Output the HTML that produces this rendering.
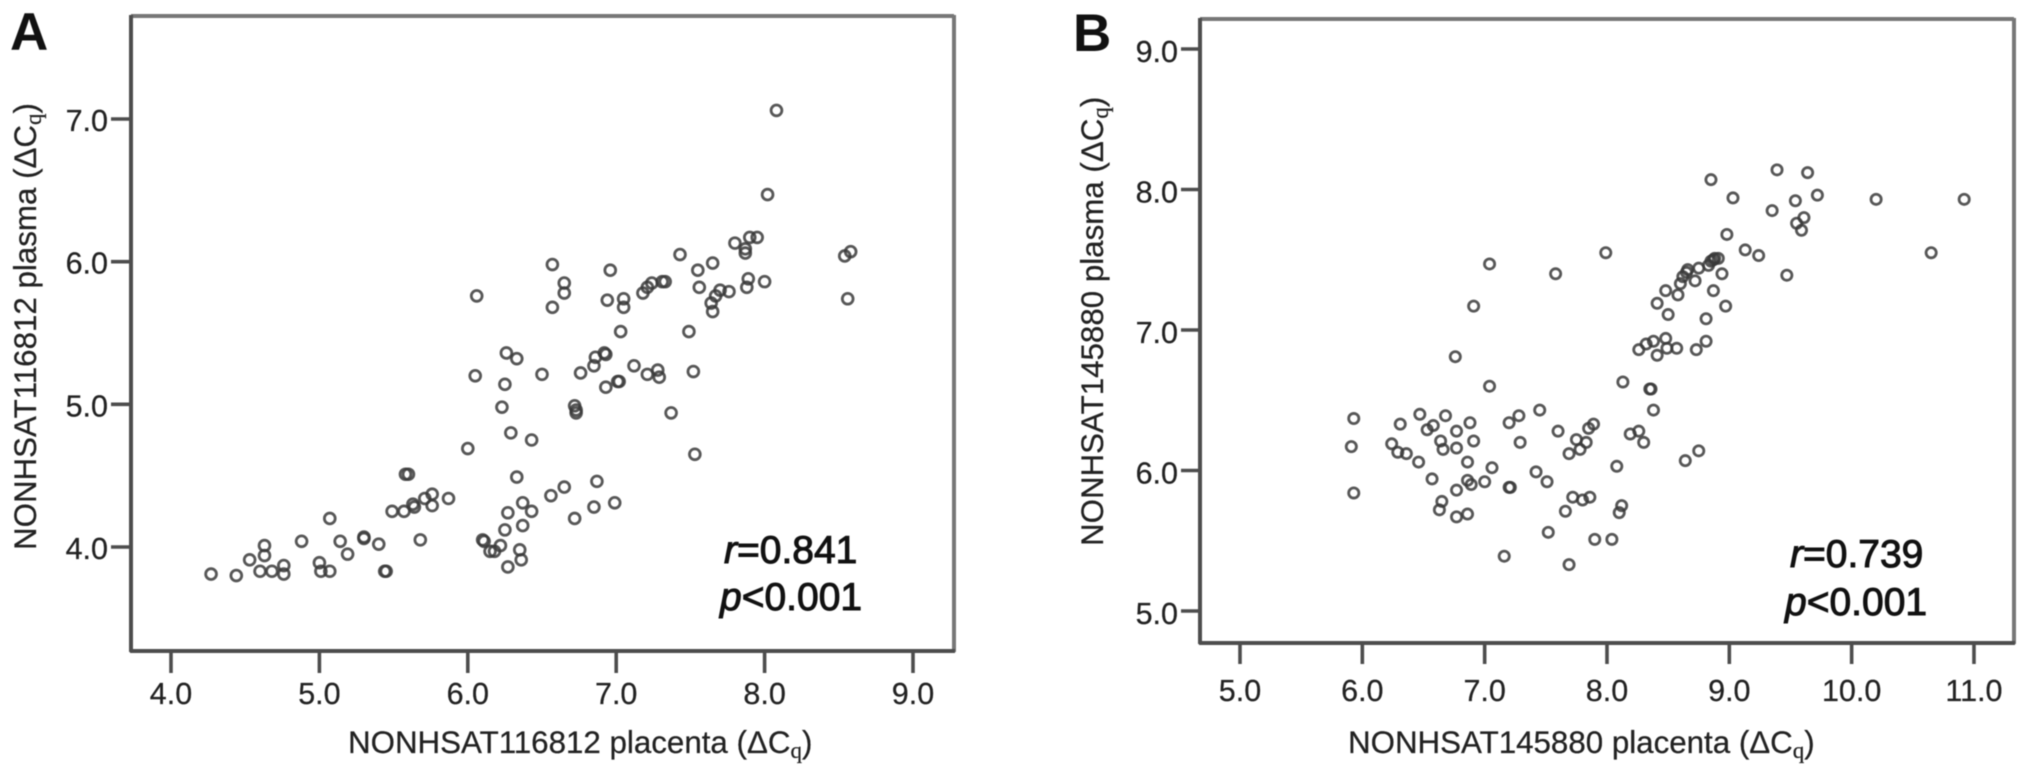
<!DOCTYPE html>
<html lang="en">
<head>
<meta charset="utf-8">
<title>NONHSAT placenta vs plasma scatter plots</title>
<style>
html,body{margin:0;padding:0;background:#fff;width:2031px;height:772px;overflow:hidden}
svg{display:block;filter:blur(0.6px)}
text{font-family:"Liberation Sans",Arial,sans-serif;fill:#222}
.tick-label{font-size:30.5px;stroke:#222;stroke-width:.25px}
.axis-title{font-size:31.3px;stroke:#222;stroke-width:.25px}
.stat{font-size:39px;fill:#111;stroke:#111;stroke-width:1px}
.panel-letter{font-size:53px;font-weight:700;fill:#111}
.sub{font-family:"Liberation Serif",serif;font-size:23px}
</style>
</head>
<body>
<svg id="figure" width="2031" height="772" viewBox="0 0 2031 772" xmlns="http://www.w3.org/2000/svg">
  <g id="panel-a">
    <text class="panel-letter" x="10" y="50">A</text>
    <line x1="131" y1="16" x2="954" y2="16" stroke="#777" stroke-width="4"/>
    <line x1="954" y1="15" x2="954" y2="652" stroke="#777" stroke-width="4"/>
    <line x1="131" y1="15" x2="131" y2="652" stroke="#4d4d4d" stroke-width="4"/>
    <line x1="130" y1="651" x2="955" y2="651" stroke="#4d4d4d" stroke-width="4"/>
    <g id="a-ticks"></g>
    <g id="a-points"></g>
    <text class="axis-title" x="348" y="753">NONHSAT116812 placenta (ΔC<tspan class="sub" dy="5">q</tspan><tspan dy="-5">)</tspan></text>
    <text class="axis-title" transform="translate(36 550) rotate(-90)">NONHSAT116812 plasma (ΔC<tspan class="sub" dy="5">q</tspan><tspan dy="-5">)</tspan></text>
    <text class="stat" x="724" y="563"><tspan font-style="italic">r</tspan>=0.841</text>
    <text class="stat" x="720" y="610"><tspan font-style="italic">p</tspan>&lt;0.001</text>
  </g>
  <g id="panel-b">
    <text class="panel-letter" x="1073" y="51">B</text>
    <line x1="1200" y1="19" x2="2014" y2="19" stroke="#777" stroke-width="4"/>
    <line x1="2014" y1="18" x2="2014" y2="644" stroke="#777" stroke-width="4"/>
    <line x1="1200" y1="18" x2="1200" y2="644" stroke="#4d4d4d" stroke-width="4"/>
    <line x1="1199" y1="643" x2="2015" y2="643" stroke="#4d4d4d" stroke-width="4"/>
    <g id="b-ticks"></g>
    <g id="b-points"></g>
    <text class="axis-title" x="1348" y="753">NONHSAT145880 placenta (ΔC<tspan class="sub" dy="5">q</tspan><tspan dy="-5">)</tspan></text>
    <text class="axis-title" transform="translate(1103 546) rotate(-90)">NONHSAT145880 plasma (ΔC<tspan class="sub" dy="5">q</tspan><tspan dy="-5">)</tspan></text>
    <text class="stat" x="1790" y="567"><tspan font-style="italic">r</tspan>=0.739</text>
    <text class="stat" x="1785" y="615"><tspan font-style="italic">p</tspan>&lt;0.001</text>
  </g>
</svg>
<script>
const aXTicks = [4, 5, 6, 7, 8, 9];
const aYTicks = [4, 5, 6, 7];
const bXTicks = [5, 6, 7, 8, 9, 10, 11];
const bYTicks = [5, 6, 7, 8, 9];

const aPlacenta = [4.27,4.44,4.53,4.63,4.63,4.60,4.68,4.76,4.76,4.88,5.07,5.14,5.19,5.00,5.01,5.07,5.30,5.30,5.40,5.45,5.44,5.49,5.57,5.58,5.60,5.63,5.64,5.71,5.76,5.76,5.87,5.68,6.00,6.11,6.10,6.22,6.15,6.18,6.35,6.36,6.27,6.25,6.37,6.27,6.43,6.37,6.33,6.56,6.65,6.72,6.85,6.87,6.99,7.37,7.53,6.29,6.43,6.23,6.72,6.73,6.73,6.05,6.25,6.26,6.33,6.50,6.76,6.85,6.86,6.92,6.93,6.93,7.02,7.01,7.12,7.21,7.28,7.29,7.52,7.49,7.03,6.06,6.65,6.65,6.57,6.57,6.96,6.94,7.05,7.05,7.18,7.21,7.24,7.31,7.33,7.43,7.55,7.65,7.56,7.65,7.64,7.67,7.70,7.76,7.88,7.89,8.00,7.80,7.87,7.87,7.90,7.95,8.02,8.08,8.54,8.58,8.56];
const aPlasma = [3.81,3.80,3.91,4.01,3.94,3.83,3.83,3.87,3.81,4.04,4.20,4.04,3.95,3.89,3.83,3.83,4.07,4.06,4.02,3.83,3.83,4.25,4.25,4.51,4.51,4.30,4.28,4.34,4.37,4.29,4.34,4.05,4.69,4.04,4.05,4.01,3.97,3.97,3.98,3.91,3.86,4.12,4.15,4.24,4.25,4.31,4.49,4.36,4.42,4.20,4.28,4.46,4.31,4.94,4.65,4.80,4.75,4.98,4.99,4.94,4.96,5.20,5.14,5.36,5.32,5.21,5.22,5.27,5.33,5.36,5.35,5.12,5.16,5.16,5.27,5.21,5.24,5.19,5.23,5.51,5.51,5.76,5.85,5.78,5.68,5.98,5.94,5.73,5.74,5.68,5.78,5.82,5.85,5.86,5.86,6.05,5.94,5.99,5.82,5.65,5.71,5.76,5.80,5.79,5.82,5.88,5.86,6.13,6.09,6.06,6.17,6.17,6.47,7.06,6.04,6.07,5.74];

const bPlacenta = [5.93,5.91,5.93,6.31,6.24,6.29,6.36,6.46,6.47,6.53,6.58,6.68,6.57,6.64,6.66,6.77,6.77,6.88,6.91,6.86,7.06,7.00,6.86,6.89,6.77,6.65,6.63,6.77,6.86,7.20,7.21,7.16,7.20,7.28,7.29,7.45,7.60,7.42,7.51,7.52,7.89,7.85,7.75,7.83,7.78,7.69,8.08,8.19,8.26,8.30,8.38,8.36,8.35,8.13,8.75,8.64,7.72,7.80,7.86,7.66,8.12,8.10,7.90,8.04,7.69,7.04,7.58,6.91,6.76,7.04,7.99,8.85,9.03,9.39,9.64,9.54,9.35,9.72,10.20,10.92,10.65,9.61,9.55,9.59,8.98,9.13,9.24,9.47,8.91,8.88,8.85,8.83,8.87,8.75,8.66,8.65,8.62,8.72,8.60,8.94,8.87,8.97,8.81,8.48,8.58,8.41,8.50,8.81,8.73,8.57,8.49,8.48,8.41,8.38,8.32,8.26];
const bPlasma = [6.37,6.17,5.84,6.33,6.19,6.13,6.12,6.06,6.40,6.29,6.32,6.39,5.94,6.21,6.15,6.16,6.28,6.34,6.21,6.06,6.02,5.92,5.93,5.90,5.86,5.78,5.72,5.67,5.69,5.88,5.88,5.39,6.34,6.39,6.20,6.43,6.28,5.99,5.92,5.56,6.33,6.30,6.22,6.20,6.15,6.12,6.03,6.26,6.28,6.20,6.43,6.58,6.58,6.63,6.14,6.07,5.81,5.79,5.81,5.71,5.75,5.70,5.51,5.51,5.33,7.47,7.40,7.17,6.81,6.60,7.55,8.07,7.94,8.14,8.12,7.92,7.85,7.96,7.93,7.93,7.55,7.80,7.76,7.71,7.68,7.57,7.53,7.39,7.51,7.51,7.49,7.46,7.50,7.44,7.43,7.41,7.38,7.35,7.33,7.40,7.28,7.17,7.08,7.28,7.25,7.19,7.11,6.92,6.86,6.87,6.87,6.94,6.82,6.92,6.90,6.86];

const SVG_NS = 'http://www.w3.org/2000/svg';

function aX(v) { return 171 + (v - 4) * 148.4; }
function aY(v) { return 547 - (v - 4) * 142.67; }
function bX(v) { return 1240 + (v - 5) * 122.33; }
function bY(v) { return 611 - (v - 5) * 140.5; }

function drawLine(parent, x1, y1, x2, y2) {
  const el = document.createElementNS(SVG_NS, 'line');
  el.setAttribute('x1', x1);
  el.setAttribute('y1', y1);
  el.setAttribute('x2', x2);
  el.setAttribute('y2', y2);
  el.setAttribute('stroke', '#4d4d4d');
  el.setAttribute('stroke-width', '3.6');
  
  
  parent.appendChild(el);
}

function drawLabel(parent, x, y, anchor, str) {
  const el = document.createElementNS(SVG_NS, 'text');
  el.setAttribute('class', 'tick-label');
  el.setAttribute('x', x);
  el.setAttribute('y', y);
  el.setAttribute('text-anchor', anchor);
  
  
  el.textContent = str;
  parent.appendChild(el);
}

function drawPoints(parent, xs, ys, sx, sy, r, sw) {
  xs.forEach(function (v, i) {
    const c = document.createElementNS(SVG_NS, 'circle');
    c.setAttribute('cx', sx(v));
    c.setAttribute('cy', sy(ys[i]));
    c.setAttribute('r', r);
    c.setAttribute('fill', 'none');
    c.setAttribute('stroke', '#3a3a3a');
    c.setAttribute('stroke-opacity', '0.85');
    c.setAttribute('stroke-width', sw);
    
    
    parent.appendChild(c);
  });
}

const aTicksGroup = document.getElementById('a-ticks');
aXTicks.forEach(function (t) {
  drawLine(aTicksGroup, aX(t), 651, aX(t), 673);
  drawLabel(aTicksGroup, aX(t), 704, 'middle', t.toFixed(1));
});
aYTicks.forEach(function (t) {
  drawLine(aTicksGroup, 111, aY(t), 131, aY(t));
  drawLabel(aTicksGroup, 108, aY(t) + 12, 'end', t.toFixed(1));
});

const bTicksGroup = document.getElementById('b-ticks');
bXTicks.forEach(function (t) {
  drawLine(bTicksGroup, bX(t), 643, bX(t), 664);
  drawLabel(bTicksGroup, bX(t), 701, 'middle', t.toFixed(1));
});
bYTicks.forEach(function (t) {
  drawLine(bTicksGroup, 1181, bY(t), 1200, bY(t));
  drawLabel(bTicksGroup, 1178, bY(t) + 13, 'end', t.toFixed(1));
});

drawPoints(document.getElementById('a-points'), aPlacenta, aPlasma, aX, aY, 5.4, 2.8);
drawPoints(document.getElementById('b-points'), bPlacenta, bPlasma, bX, bY, 5.1, 2.8);
</script>
</body>
</html>
